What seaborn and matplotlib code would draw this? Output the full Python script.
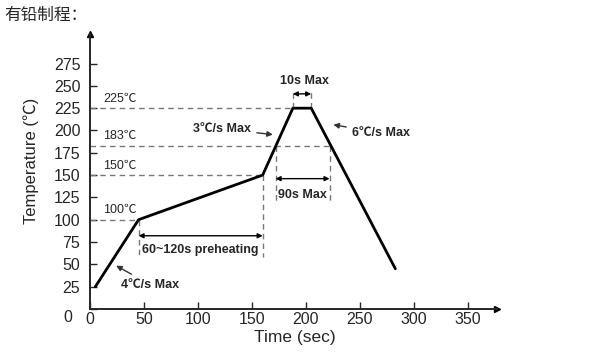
""" Leaded reflow soldering profile. """

import numpy as np
import pandas as pd
import seaborn as sns
import matplotlib.pyplot as plt
import matplotlib.transforms as mtransforms

# Profile corner points
time_s = [5, 45, 160, 188, 205, 283]
temp_c = [25, 100, 150, 225, 225, 45]

# Reference temperature levels and where the dashed guide stops
ref_temps = [225, 183, 150, 100]
ref_ends = [188, 222, 160, 45]
ref_labels = ["225℃", "183℃", "150℃", "100℃"]

# Vertical guides: (x, y from, y to)
vguide_x = [45, 160, 172, 222, 188, 205]
vguide_y0 = [100, 150, 183, 183, 225, 225]
vguide_y1 = [58, 58, 120, 120, 246, 246]

# Span arrows
span_start = [45, 172, 188]
span_end = [160, 222, 205]
span_y = [82, 146, 241]
span_labels = ["60~120s preheating", "90s Max", "10s Max"]
span_label_x = [102, 197, 199]
span_label_y = [66, 128, 256]

x_ticks = [0, 50, 100, 150, 200, 250, 300, 350]
y_ticks = [0, 25, 50, 75, 100, 125, 150, 175, 200, 225, 250, 275]


def main() -> None:
    """ Main function. """
    sns.set_style("ticks")
    plt.rcParams["font.family"] = ["Liberation Sans", "Noto Sans CJK SC", "DejaVu Sans"]

    fig = plt.figure(figsize=(6, 3.63), dpi=100)
    ax = fig.add_axes([0.15, 0.149, 0.678, 0.757])

    guide = dict(color="#777777", lw=1, ls=(0, (4, 3)))

    # Horizontal guides + level labels
    for t, end, lab in zip(ref_temps, ref_ends, ref_labels):
        ax.plot([0, end], [t, t], **guide)
        ax.text(12, t + 4, lab, fontsize=9, ha="left", va="bottom")

    # Vertical guides
    for x, y0, y1 in zip(vguide_x, vguide_y0, vguide_y1):
        ax.plot([x, x], [y0, y1], **guide)

    # Profile
    df = pd.DataFrame({"Time": time_s, "Temp": temp_c})
    sns.lineplot(data=df, x="Time", y="Temp", sort=False, color="black",
                 lw=2, ax=ax)

    # Span arrows
    for a, b, y, lab, lx, ly in zip(span_start, span_end, span_y,
                                    span_labels, span_label_x, span_label_y):
        ax.annotate("", xy=(a, y), xytext=(b, y),
                    arrowprops=dict(arrowstyle="<|-|>", color="black", lw=1,
                                    shrinkA=0, shrinkB=0, mutation_scale=7))
        ax.text(lx, ly, lab, fontsize=9, fontweight="bold",
                ha="center", va="center")

    # Ramp-rate notes
    note = dict(arrowstyle="-|>", color="#333333", lw=1, mutation_scale=8)
    ax.annotate("3℃/s Max", xy=(172, 195), xytext=(149, 202), fontsize=9,
                fontweight="bold", ha="right", va="center", arrowprops=note)
    ax.annotate("6℃/s Max", xy=(223, 207), xytext=(243, 197), fontsize=9,
                fontweight="bold", ha="left", va="center", arrowprops=note)
    ax.annotate("4℃/s Max", xy=(22, 50), xytext=(29, 27), fontsize=9,
                fontweight="bold", ha="left", va="center", arrowprops=note)

    ax.set_xlim(0, 377)
    ax.set_ylim(0, 308)
    ax.set_xticks(x_ticks)
    ax.set_yticks(y_ticks)
    ax.tick_params(direction="in", length=5, width=1, labelsize=11.5)
    ax.tick_params(axis="x", pad=2)
    ax.tick_params(axis="y", pad=7)
    sns.despine(ax=ax)
    for s in ["left", "bottom"]:
        ax.spines[s].set_linewidth(1.4)

    # the origin label on the y axis sits lower and further left in the original
    zero = ax.get_yticklabels()[0]
    zero.set_transform(zero.get_transform() + mtransforms.ScaledTranslation(
        -6 / 72, -5 / 72, fig.dpi_scale_trans))

    # Arrow heads on the axes
    ax.plot(1, 0, ">k", ms=5, transform=ax.get_yaxis_transform(), clip_on=False)
    ax.plot(0, 1, "^k", ms=5, transform=ax.get_xaxis_transform(), clip_on=False)

    ax.set_xlabel("Time (sec)", fontsize=12.5)
    ax.set_ylabel("Temperature (℃)", fontsize=12)
    ax.xaxis.set_label_coords(0.504, -0.075)
    ax.yaxis.set_label_coords(-0.125, 0.54)

    fig.text(0.008, 0.958, "有铅制程：", fontsize=12, ha="left", va="center")

    fig.savefig("out.png", dpi=100, facecolor="white")


if __name__ == "__main__":
    main()
